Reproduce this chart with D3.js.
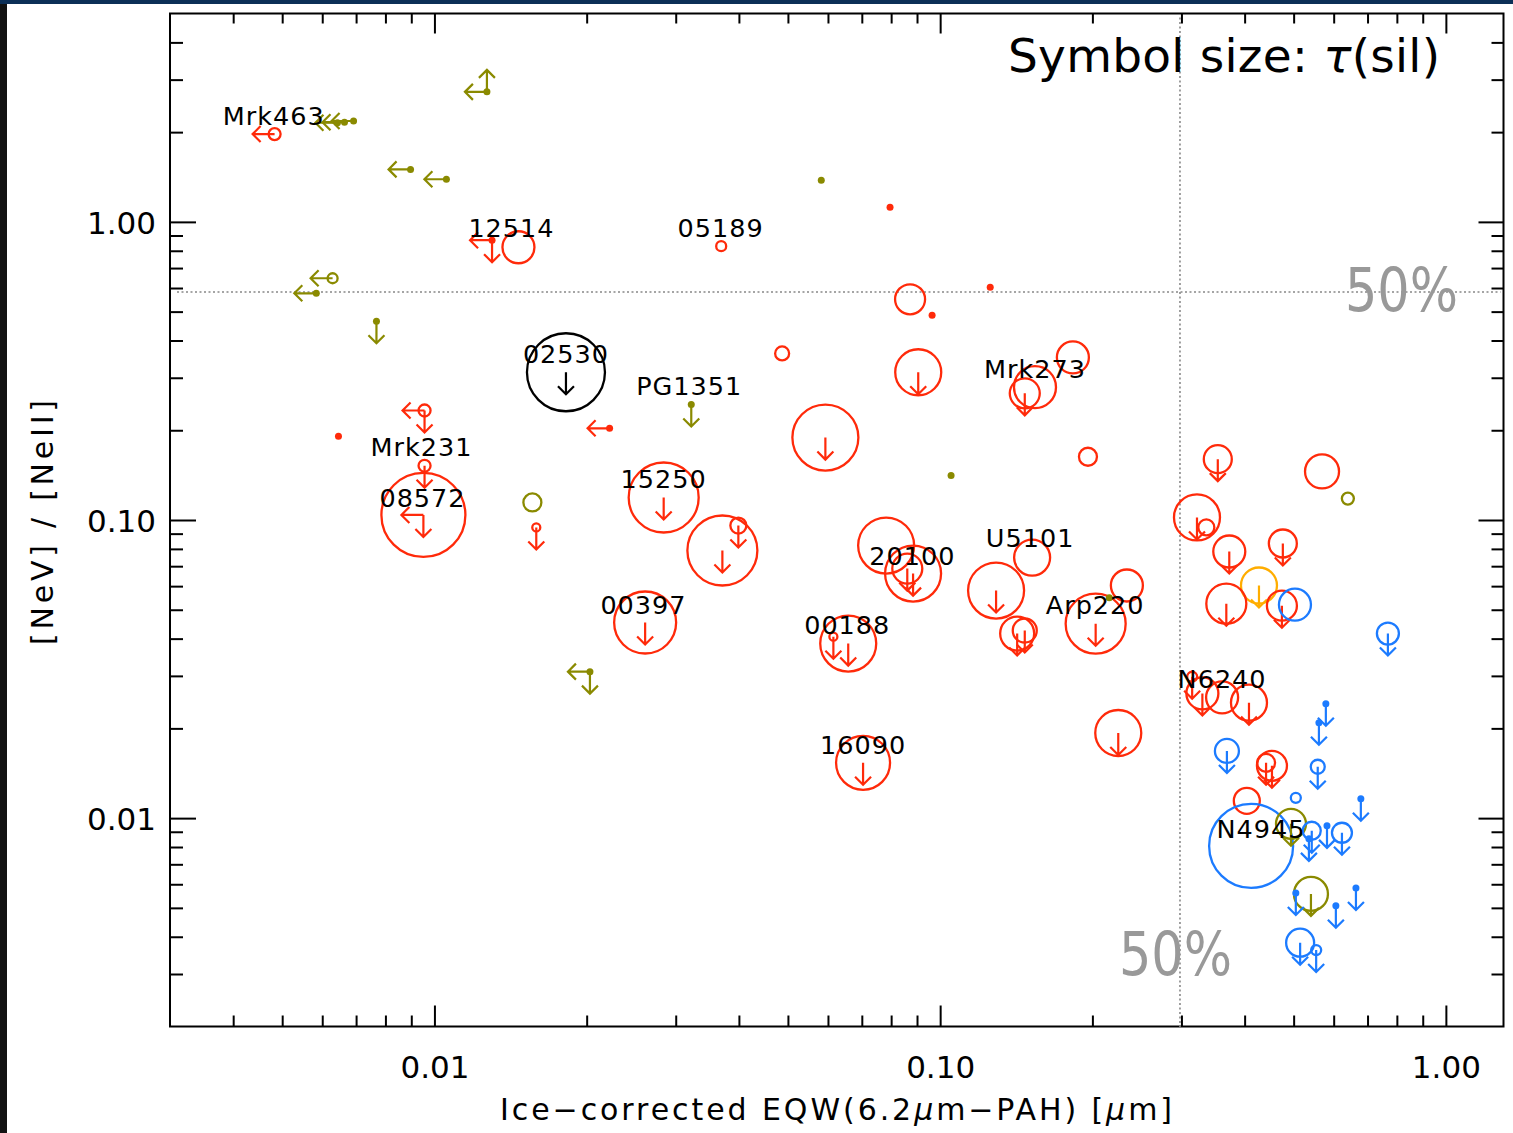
<!DOCTYPE html>
<html>
<head>
<meta charset="utf-8">
<script src="https://cdn.jsdelivr.net/npm/d3@7"></script>
<style>
  html, body { margin: 0; padding: 0; background: #111; }
  svg { display: block; }
  text { font-family: "DejaVu Sans", sans-serif; }
</style>
</head>
<body>
<svg id="chart" width="1513" height="1133"></svg>
<script>
// ice-corrected EQW(6.2um PAH) in micron
const eqw = [0.0127, 0.00692, 0.00664, 0.00643, 0.00483, 0.00897, 0.01056, 0.0130, 0.01466, 0.00629,
  0.00584, 0.00768, 0.0582, 0.0796, 0.0369, 0.0872, 0.1256, 0.0964, 0.0182, 0.00646,
  0.00956, 0.00956, 0.00951, 0.0322, 0.0222, 0.0487, 0.0905, 0.0593, 0.1051, 0.0284,
  0.01562, 0.0159, 0.0371, 0.0399, 0.0782, 0.0884, 0.0861, 0.129, 0.0261, 0.0203,
  0.0658, 0.0615, 0.183, 0.154, 0.147, 0.196, 0.354, 0.569, 0.640, 0.322,
  0.336, 0.373, 0.476, 0.427, 0.368, 0.474, 0.503, 0.768, 0.152, 0.234,
  0.203, 0.142, 0.147, 0.216, 0.315, 0.330, 0.361, 0.408, 0.225, 0.369,
  0.579, 0.561, 0.558, 0.441, 0.453, 0.505, 0.404, 0.679, 0.412, 0.494,
  0.543, 0.623, 0.582, 0.536, 0.541, 0.505, 0.606, 0.664, 0.515, 0.554, 0.0704];

// [NeV]/[NeII]
const ratio = [2.73, 2.18, 2.16, 2.15, 1.97, 1.50, 1.39, 0.868, 0.822, 0.647,
  0.576, 0.464, 1.38, 1.12, 0.829, 0.550, 0.604, 0.486, 0.313, 0.191,
  0.233, 0.152, 0.104, 0.244, 0.203, 0.362, 0.313, 0.189, 0.141, 0.119,
  0.1145, 0.0944, 0.079, 0.0958, 0.0821, 0.0661, 0.0687, 0.058, 0.0453, 0.031,
  0.0385, 0.0406, 0.351, 0.279, 0.266, 0.163, 0.160, 0.1455, 0.118, 0.102,
  0.0944, 0.0784, 0.0834, 0.0603, 0.0524, 0.0516, 0.052, 0.0416, 0.0748, 0.0603,
  0.0449, 0.0416, 0.0426, 0.0549, 0.0298, 0.0262, 0.0254, 0.0244, 0.0193, 0.0168,
  0.0242, 0.0209, 0.01487, 0.01533, 0.01498, 0.0117, 0.01143, 0.01161, 0.00807, 0.00957,
  0.00907, 0.00893, 0.00942, 0.00852, 0.00557, 0.00561, 0.00508, 0.00583, 0.00382, 0.00361, 0.01533];

// silicate optical depth (symbol size); 0 = small filled dot
const tau = [0, 0, 0, 0, 0.6, 0, 0, 0, 1.6, 0.5,
  0, 0, 0, 0, 0.5, 1.5, 0, 0, 3.9, 0,
  0.6, 0.6, 4.2, 0, 0, 0.7, 2.3, 3.3, 0, 3.5,
  0.9, 0.4, 3.5, 0.8, 2.8, 2.8, 1.5, 2.8, 3.1, 0,
  2.8, 0.4, 1.6, 2.1, 1.5, 0.9, 1.4, 1.7, 0.6, 2.3,
  0.8, 1.6, 1.4, 1.8, 2.0, 1.5, 1.6, 1.1, 1.8, 1.6,
  3.0, 1.7, 1.2, 0, 0.5, 1.6, 1.6, 1.8, 2.3, 1.2,
  0, 0, 0.7, 0.9, 1.5, 0.5, 1.3, 0, 4.2, 1.5,
  0.9, 1.0, 0, 0, 1.7, 0, 0, 0, 1.4, 0.5, 2.7];

// class of each source: o olive, r red, k black, y orange, b blue
const group = ["o","o","o","o","r","o","o","r","r","o",
  "o","o","o","r","r","r","r","r","k","r",
  "r","r","r","o","r","r","r","r","o","r",
  "o","r","r","r","r","r","r","r","r","o",
  "r","r","r","r","r","r","r","r","o","r",
  "r","r","r","y","r","r","b","b","r","r",
  "r","r","r","o","r","r","r","r","r","b",
  "b","b","b","r","r","b","r","b","b","o",
  "b","b","b","b","o","b","b","b","b","b","r"];

// limits: L = upper limit in x, D = upper limit in y, U = lower limit in y
const limit = ["LU","L","L","L","L","L","L","LD","","L",
  "L","D","","","","","","","D","",
  "LD","D","LD","D","L","","D","D","","D",
  "","D","D","D","","D","D","D","D","LD",
  "D","D","","","D","","D","","","D",
  "","D","D","D","D","D","","D","","",
  "D","D","D","","D","D","","D","D","D",
  "D","D","D","D","D","","","D","","D",
  "D","D","D","D","D","D","D","D","D","D","D"];

const labelNames = ["Mrk463","12514","05189","02530","PG1351","Mrk231","08572","15250","20100",
  "U5101","Mrk273","Arp220","00397","00188","16090","N6240","N4945"];
const labelEqw = [0.00481, 0.0142, 0.0368, 0.0182, 0.0319, 0.00943, 0.00947, 0.0284, 0.0881,
  0.1506, 0.154, 0.2025, 0.0259, 0.0655, 0.0704, 0.361, 0.431];
const labelRatio = [2.112, 0.888, 0.888, 0.3353, 0.2619, 0.1634, 0.1102, 0.1285, 0.0709,
  0.0809, 0.2987, 0.0485, 0.0485, 0.0416, 0.01642, 0.02738, 0.00859];

const majorTicks = [0.01, 0.1, 1];
const tickLabels = ["0.01", "0.10", "1.00"];
const eqwHalf = 0.298;   // 50% line in EQW
const ratioHalf = 0.582; // 50% line in [NeV]/[NeII]

const colors = { o: "#8a8a00", r: "#ff2a0a", k: "#000000", y: "#ffad00", b: "#1c7bff" };

const W = 1513, H = 1133;
const margin = { top: 13.5, right: 9.5, bottom: 106.5, left: 170 };

const svg = d3.select("#chart");

// slide background strips
svg.append("rect").attr("width", W).attr("height", H).attr("fill", "#121212");
svg.append("rect").attr("width", W).attr("height", 4).attr("fill", "#0c2f57");
svg.append("rect").attr("x", 7).attr("y", 4).attr("width", W - 7).attr("height", H - 4).attr("fill", "#fff");

const x = d3.scaleLog().domain([0.003, 1.3]).range([margin.left, W - margin.right]);
const y = d3.scaleLog().domain([0.002, 5]).range([H - margin.bottom, margin.top]);
const r = d3.scaleLinear().domain([0, 5]).range([0, 50]);

// minor tick positions
const minorX = [], minorY = [];
[0.001, 0.01, 0.1].forEach(p => d3.range(2, 10).forEach(k => {
  const v = +(k * p).toPrecision(3);
  if (v > 0.003 && v < 1.3) minorX.push(v);
}));
[0.001, 0.01, 0.1, 1].forEach(p => d3.range(2, 10).forEach(k => {
  const v = +(k * p).toPrecision(3);
  if (v > 0.002 && v < 5) minorY.push(v);
}));

function styleAxis(g) {
  g.select(".domain").remove();
  g.selectAll("line").attr("stroke", "#000").attr("stroke-width", 2);
}

// left
svg.append("g").attr("transform", `translate(${margin.left},0)`)
  .call(d3.axisLeft(y).tickValues(majorTicks).tickSize(-26).tickPadding(14)
    .tickFormat((d, i) => tickLabels[i]))
  .call(styleAxis)
  .selectAll("text").attr("font-size", 31).attr("fill", "#000")
  .attr("font-family", "DejaVu Sans").attr("dy", "0.36em").attr("x", -14);
svg.append("g").attr("transform", `translate(${margin.left},0)`)
  .call(d3.axisLeft(y).tickValues(minorY).tickSize(-13).tickFormat(""))
  .call(styleAxis);

// right
svg.append("g").attr("transform", `translate(${W - margin.right},0)`)
  .call(d3.axisRight(y).tickValues(majorTicks).tickSize(-25).tickFormat(""))
  .call(styleAxis);
svg.append("g").attr("transform", `translate(${W - margin.right},0)`)
  .call(d3.axisRight(y).tickValues(minorY).tickSize(-12).tickFormat(""))
  .call(styleAxis);

// bottom
svg.append("g").attr("transform", `translate(0,${H - margin.bottom})`)
  .call(d3.axisBottom(x).tickValues(majorTicks).tickSize(-21)
    .tickFormat((d, i) => tickLabels[i]))
  .call(styleAxis)
  .selectAll("text").attr("font-size", 31).attr("fill", "#000")
  .attr("font-family", "DejaVu Sans").attr("dy", 0).attr("y", 51);
svg.append("g").attr("transform", `translate(0,${H - margin.bottom})`)
  .call(d3.axisBottom(x).tickValues(minorX).tickSize(-11).tickFormat(""))
  .call(styleAxis);

// top
svg.append("g").attr("transform", `translate(0,${margin.top})`)
  .call(d3.axisTop(x).tickValues(majorTicks).tickSize(-20).tickFormat(""))
  .call(styleAxis);
svg.append("g").attr("transform", `translate(0,${margin.top})`)
  .call(d3.axisTop(x).tickValues(minorX).tickSize(-10).tickFormat(""))
  .call(styleAxis);

// frame
svg.append("rect")
  .attr("x", margin.left).attr("y", margin.top)
  .attr("width", W - margin.right - margin.left)
  .attr("height", H - margin.bottom - margin.top)
  .attr("fill", "none").attr("stroke", "#000").attr("stroke-width", 2);

// dotted 50% lines
svg.append("line")
  .attr("x1", margin.left + 7).attr("x2", W - margin.right - 3)
  .attr("y1", y(ratioHalf)).attr("y2", y(ratioHalf))
  .attr("stroke", "#888").attr("stroke-width", 1.6).attr("stroke-dasharray", "2,2.5");
svg.append("line")
  .attr("x1", x(eqwHalf)).attr("x2", x(eqwHalf))
  .attr("y1", margin.top + 4).attr("y2", H - margin.bottom + 3)
  .attr("stroke", "#888").attr("stroke-width", 1.6).attr("stroke-dasharray", "2,2.5");

svg.append("text")
  .attr("x", 1345).attr("y", y(ratioHalf) + 19)
  .attr("font-family", "Liberation Sans")
  .attr("textLength", 113).attr("lengthAdjust", "spacingAndGlyphs")
  .attr("font-size", 60).attr("fill", "#999").text("50%");
svg.append("text")
  .attr("x", 1119).attr("y", 975)
  .attr("font-family", "Liberation Sans")
  .attr("textLength", 113).attr("lengthAdjust", "spacingAndGlyphs")
  .attr("font-size", 60).attr("fill", "#999").text("50%");

// points
const points = eqw.map((d, i) => ({ ex: d, ry: ratio[i], t: tau[i], g: group[i], lim: limit[i] }));

function arrowPath(cx, cy, dir) {
  const L = 22, h = 8;
  if (dir === "D") return `M${cx},${cy}V${cy + L}M${cx - h},${cy + L - h}L${cx},${cy + L}L${cx + h},${cy + L - h}`;
  if (dir === "U") return `M${cx},${cy}V${cy - L}M${cx - h},${cy - L + h}L${cx},${cy - L}L${cx + h},${cy - L + h}`;
  return `M${cx},${cy}H${cx - L}M${cx - L + h},${cy - h}L${cx - L},${cy}L${cx - L + h},${cy + h}`;
}

const pg = svg.append("g");
points.forEach(p => {
  const cx = x(p.ex), cy = y(p.ry), c = colors[p.g];
  if (p.t > 0) {
    pg.append("circle").attr("cx", cx).attr("cy", cy).attr("r", r(p.t))
      .attr("fill", "none").attr("stroke", c).attr("stroke-width", 2.3);
  } else {
    pg.append("circle").attr("cx", cx).attr("cy", cy).attr("r", 3.5).attr("fill", c);
  }
  p.lim.split("").forEach(dir => {
    pg.append("path").attr("d", arrowPath(cx, cy, dir))
      .attr("fill", "none").attr("stroke", c).attr("stroke-width", 2.2);
  });
});

// source names
svg.append("g").selectAll("text")
  .data(labelNames)
  .join("text")
  .attr("x", (d, i) => x(labelEqw[i]))
  .attr("y", (d, i) => y(labelRatio[i]))
  .attr("text-anchor", "middle")
  .attr("font-size", 25.5).attr("letter-spacing", 1)
  .attr("fill", "#000")
  .text(d => d);

// axis titles
const xt = svg.append("text")
  .attr("x", 500).attr("y", 1120)
  .attr("font-size", 30).attr("textLength", 672).attr("lengthAdjust", "spacing")
  .attr("fill", "#000");
xt.append("tspan").text("Ice\u2212corrected EQW(6.2");
xt.append("tspan").attr("font-style", "italic").text("\u03bc");
xt.append("tspan").text("m\u2212PAH) [");
xt.append("tspan").attr("font-style", "italic").text("\u03bc");
xt.append("tspan").text("m]");

svg.append("text")
  .attr("transform", "translate(53,645) rotate(-90)")
  .attr("font-size", 30).attr("textLength", 245).attr("lengthAdjust", "spacing")
  .attr("fill", "#000")
  .text("[NeV] / [NeII]");

const tt = svg.append("text")
  .attr("x", 1008).attr("y", 72)
  .attr("font-size", 47).attr("textLength", 432).attr("lengthAdjust", "spacing")
  .attr("fill", "#000");
tt.append("tspan").text("Symbol size: ");
tt.append("tspan").attr("font-style", "italic").text("\u03c4");
tt.append("tspan").text("(sil)");
</script>
</body>
</html>
